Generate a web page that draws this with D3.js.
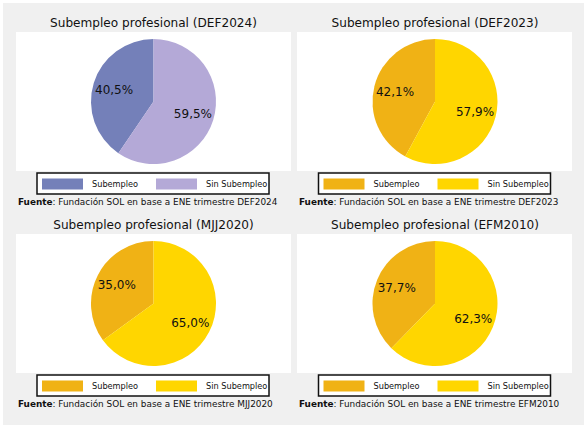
<!DOCTYPE html>
<html>
<head>
<meta charset="utf-8">
<script src="https://cdn.jsdelivr.net/npm/d3@7/dist/d3.min.js"></script>
<style>
html,body{margin:0;padding:0;background:#fff;}
svg{display:block;font-family:"DejaVu Sans",sans-serif;}
</style>
</head>
<body>
<svg id="chart" width="587" height="430"></svg>
<script>
const periods = ["DEF2024", "DEF2023", "MJJ2020", "EFM2010"];
const categories = ["Subempleo", "Sin Subempleo"];
const subempleo = [40.5, 42.1, 35.0, 37.7];
const sinSubempleo = [59.5, 57.9, 65.0, 62.3];
const palettes = [
  ["#7480b9", "#b4a9d7"],
  ["#f0b215", "#ffd600"],
  ["#f0b215", "#ffd600"],
  ["#f0b215", "#ffd600"]
];

const svg = d3.select("#chart");
svg.append("rect").attr("x", 3).attr("y", 3).attr("width", 581).attr("height", 422).attr("fill", "#f0f0f0");

const fmt = v => d3.format(".1f")(v).replace(".", ",") + "%";

const panels = [
  {cx: 153.5, ox: 16, oy: 0},
  {cx: 435, ox: 297, oy: 0},
  {cx: 153.5, ox: 16, oy: 202},
  {cx: 435, ox: 297, oy: 202}
];

periods.forEach((p, i) => {
  const P = panels[i];
  const g = svg.append("g").attr("transform", `translate(0,${P.oy})`);
  const vals = [subempleo[i], sinSubempleo[i]];
  const color = d3.scaleOrdinal().domain(categories).range(palettes[i]);

  g.append("rect").attr("x", P.ox).attr("y", 32).attr("width", 275).attr("height", 139).attr("fill", "#fff");

  g.append("text").attr("x", P.cx).attr("y", 27).attr("text-anchor", "middle")
    .attr("font-size", 12.1).attr("fill", "#111").text(`Subempleo profesional (${p})`);

  const r = 62.5;
  const cy = 101.5;
  const a0 = -2 * Math.PI * vals[0] / 100;
  const pie = d3.pie().sort(null).startAngle(a0).endAngle(a0 + 2 * Math.PI);
  const arcs = pie(vals);
  const arc = d3.arc().innerRadius(0).outerRadius(r);
  const labelArc = d3.arc().innerRadius(r * 0.66).outerRadius(r * 0.66);
  const pg = g.append("g").attr("transform", `translate(${P.cx},${cy})`);
  pg.selectAll("path").data(arcs).join("path")
    .attr("d", arc).attr("fill", (d, k) => color(categories[k]));
  pg.selectAll("text").data(arcs).join("text")
    .attr("transform", d => `translate(${labelArc.centroid(d)})`)
    .attr("text-anchor", "middle").attr("dy", "0.36em")
    .attr("font-size", 12).attr("fill", "#111")
    .text(d => fmt(d.data));

  const lx = P.cx - 116.5;
  const lg = g.append("g").attr("transform", `translate(${lx},173)`);
  lg.append("rect").attr("x", 0).attr("y", 0).attr("width", 232).attr("height", 21)
    .attr("fill", "#fff").attr("stroke", "#111").attr("stroke-width", 1.5);
  const offs = [{s: 5, t: 55}, {s: 119, t: 169}];
  categories.forEach((c, k) => {
    lg.append("rect").attr("x", offs[k].s).attr("y", 5.5).attr("width", 41).attr("height", 11).attr("fill", color(c));
    lg.append("text").attr("x", offs[k].t).attr("y", 14).attr("font-size", 8.2).attr("fill", "#111").text(c);
  });

  const t = g.append("text").attr("x", P.ox + 2).attr("y", 205).attr("font-size", 8.9).attr("fill", "#111");
  t.append("tspan").attr("font-weight", "bold").text("Fuente");
  t.append("tspan").text(`: Fundación SOL en base a ENE trimestre ${p}`);
});
</script>
</body>
</html>
